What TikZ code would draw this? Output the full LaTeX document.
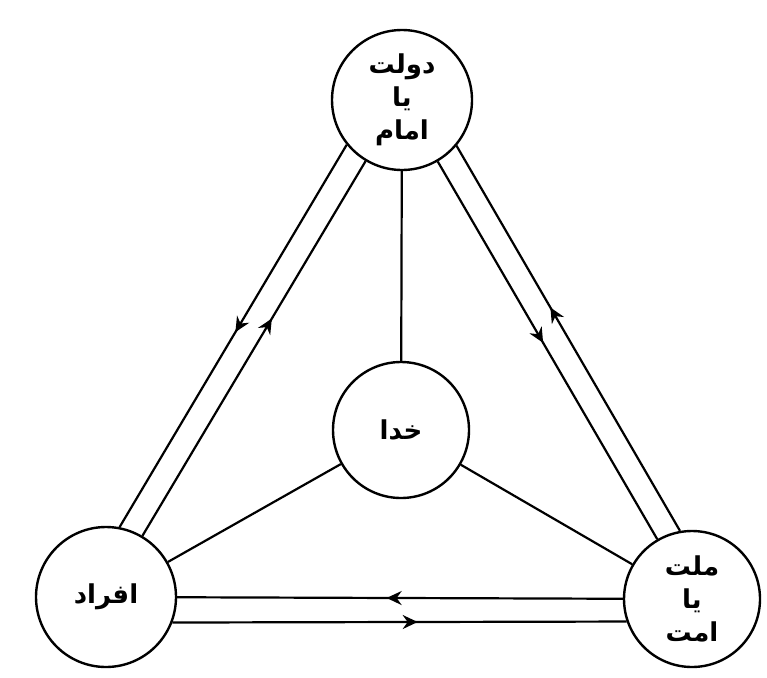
\documentclass[tikz,border=0pt]{standalone}
\usepackage{fontspec}
\TeXXeTstate=1
\newfontfamily\arabicfont[Script=Arabic]{DejaVu Sans}
\usetikzlibrary{arrows.meta,decorations.markings}
\begin{document}
\begin{tikzpicture}[x=1pt,y=-1pt,
  circ/.style={circle,draw,line width=2.4pt,minimum size=140pt,inner sep=0pt,
    font=\arabicfont\bfseries\fontsize{26}{33}\selectfont,align=center},
  conn/.style={line width=2.2pt},
  arrowat/.style={postaction={decorate},decoration={markings,
    mark=at position #1 with {\arrow{Stealth[length=15pt,width=14pt,inset=5pt]}}}}
]
\useasboundingbox[fill=white] (0,0) rectangle (767,677);
\node[circ] (top) at (402,100) {\beginR دولت\endR\\\beginR یا\endR\\\beginR امام\endR};
\node[circ,minimum size=136pt] (god) at (401,430) {\beginR خدا\endR};
\node[circ] (ind) at (106,597) {\beginR افراد\endR};
\node[circ,minimum size=136pt] (nat) at (692,599) {\beginR ملت\endR\\\beginR یا\endR\\\beginR امت\endR};
% spokes
\draw[conn] (top) -- (god);
\draw[conn] (god) -- (ind);
\draw[conn] (god) -- (nat);
% left pair
\draw[conn,arrowat=0.49] (top.219.17) -- (ind.79.17);
\draw[conn,arrowat=0.58] (ind) -- (top);
% right pair
\draw[conn,arrowat=0.48] (top) -- (nat);
\draw[conn,arrowat=0.58] (nat.100.12) -- (top.320.12);
% bottom pair
\draw[conn,arrowat=0.53] (nat) -- (ind);
\draw[conn,arrowat=0.54] (ind.339.6) -- (nat.199.6);
\end{tikzpicture}
\end{document}
